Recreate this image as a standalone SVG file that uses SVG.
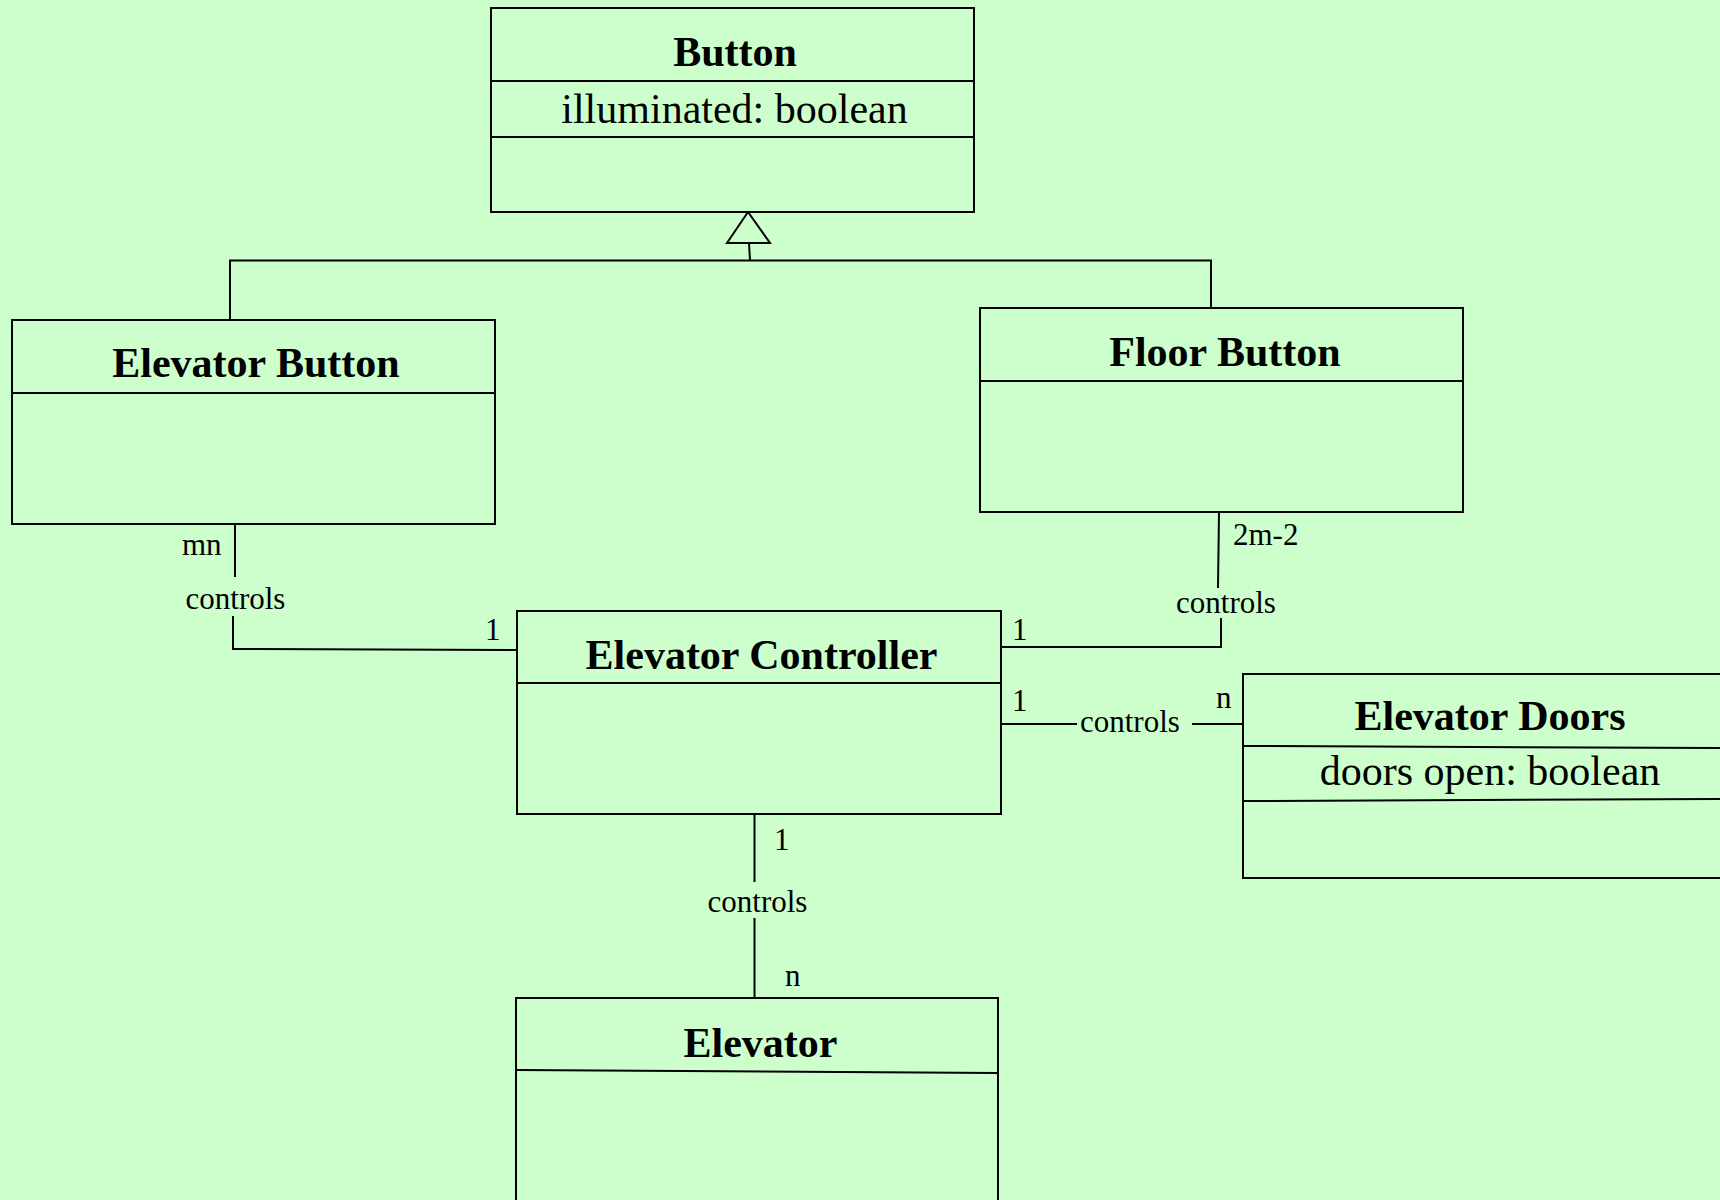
<svg xmlns="http://www.w3.org/2000/svg" width="1720" height="1200" viewBox="0 0 1720 1200">
  <style>
    .box { fill: #CCFFCC; stroke: #000; stroke-width: 2; }
    .sep { stroke: #000; stroke-width: 2; fill: none; }
    .edge { stroke: #000; stroke-width: 2; fill: none; }
    .title { font-family: "Liberation Serif", "Times New Roman", serif; font-weight: bold; font-size: 42px; text-anchor: middle; fill: #000; }
    .attr { font-family: "Liberation Serif", "Times New Roman", serif; font-size: 42px; text-anchor: middle; fill: #000; }
    .lbl { font-family: "Liberation Serif", "Times New Roman", serif; font-size: 31px; fill: #000; }
    .mid { text-anchor: middle; }
  </style>
  <rect x="0" y="0" width="1720" height="1200" fill="#CCFFCC"/>

  <!-- associations and generalization -->
  <g id="connectors">
    <!-- generalization tree -->
    <polyline class="edge" points="230,320 230,260.5 1211,260.5 1211,308"/>
    <line class="edge" x1="749" y1="243" x2="750" y2="260.5"/>
    <polygon points="748,212 727,243 770,243" fill="#CCFFCC" stroke="#000" stroke-width="2"/>

    <!-- Elevator Button - Elevator Controller -->
    <line class="edge" x1="235" y1="524" x2="235" y2="577"/>
    <polyline class="edge" points="233,616 233,649 516,650"/>
    <text class="lbl" x="182" y="555">mn</text>
    <text class="lbl mid" x="235.5" y="609">controls</text>
    <text class="lbl" x="485" y="640">1</text>

    <!-- Floor Button - Elevator Controller -->
    <line class="edge" x1="1219" y1="512" x2="1218" y2="588"/>
    <polyline class="edge" points="1221,618 1221,647 1002,647"/>
    <text class="lbl" x="1233" y="545">2m-2</text>
    <text class="lbl mid" x="1226" y="613">controls</text>
    <text class="lbl" x="1012" y="640">1</text>

    <!-- Elevator Controller - Elevator Doors -->
    <line class="edge" x1="1001" y1="724" x2="1077" y2="724"/>
    <line class="edge" x1="1192" y1="724" x2="1244" y2="724"/>
    <text class="lbl" x="1012" y="711">1</text>
    <text class="lbl" x="1080" y="732">controls</text>
    <text class="lbl" x="1216" y="708">n</text>

    <!-- Elevator Controller - Elevator -->
    <line class="edge" x1="754.5" y1="814" x2="754.5" y2="882"/>
    <line class="edge" x1="754.5" y1="918" x2="754.5" y2="998"/>
    <text class="lbl" x="774" y="850">1</text>
    <text class="lbl mid" x="757.5" y="912">controls</text>
    <text class="lbl" x="785" y="986">n</text>
  </g>

  <g id="button">
    <rect class="box" x="491" y="8" width="483" height="204"/>
    <line class="sep" x1="491" y1="81" x2="974" y2="81"/>
    <line class="sep" x1="491" y1="137" x2="974" y2="137"/>
    <text class="title" x="735" y="66">Button</text>
    <text class="attr" x="734.5" y="123">illuminated: boolean</text>
  </g>

  <g id="elevator-button">
    <rect class="box" x="12" y="320" width="483" height="204"/>
    <line class="sep" x1="12" y1="393" x2="495" y2="393"/>
    <text class="title" x="256" y="377">Elevator Button</text>
  </g>

  <g id="floor-button">
    <rect class="box" x="980" y="308" width="483" height="204"/>
    <line class="sep" x1="980" y1="381" x2="1463" y2="381"/>
    <text class="title" x="1225" y="366">Floor Button</text>
  </g>

  <g id="elevator-controller">
    <rect class="box" x="517" y="611" width="484" height="203"/>
    <line class="sep" x1="517" y1="683" x2="1001" y2="683"/>
    <text class="title" x="761.5" y="669">Elevator Controller</text>
  </g>

  <g id="elevator-doors">
    <rect class="box" x="1243" y="674" width="483" height="204"/>
    <line class="sep" x1="1243" y1="746" x2="1726" y2="748"/>
    <line class="sep" x1="1243" y1="801" x2="1726" y2="799"/>
    <text class="title" x="1490" y="730">Elevator Doors</text>
    <text class="attr" x="1490" y="785">doors open: boolean</text>
  </g>

  <g id="elevator">
    <rect class="box" x="516" y="998" width="482" height="220"/>
    <line class="sep" x1="516" y1="1070" x2="998" y2="1073"/>
    <text class="title" x="760.5" y="1057">Elevator</text>
  </g>
</svg>
